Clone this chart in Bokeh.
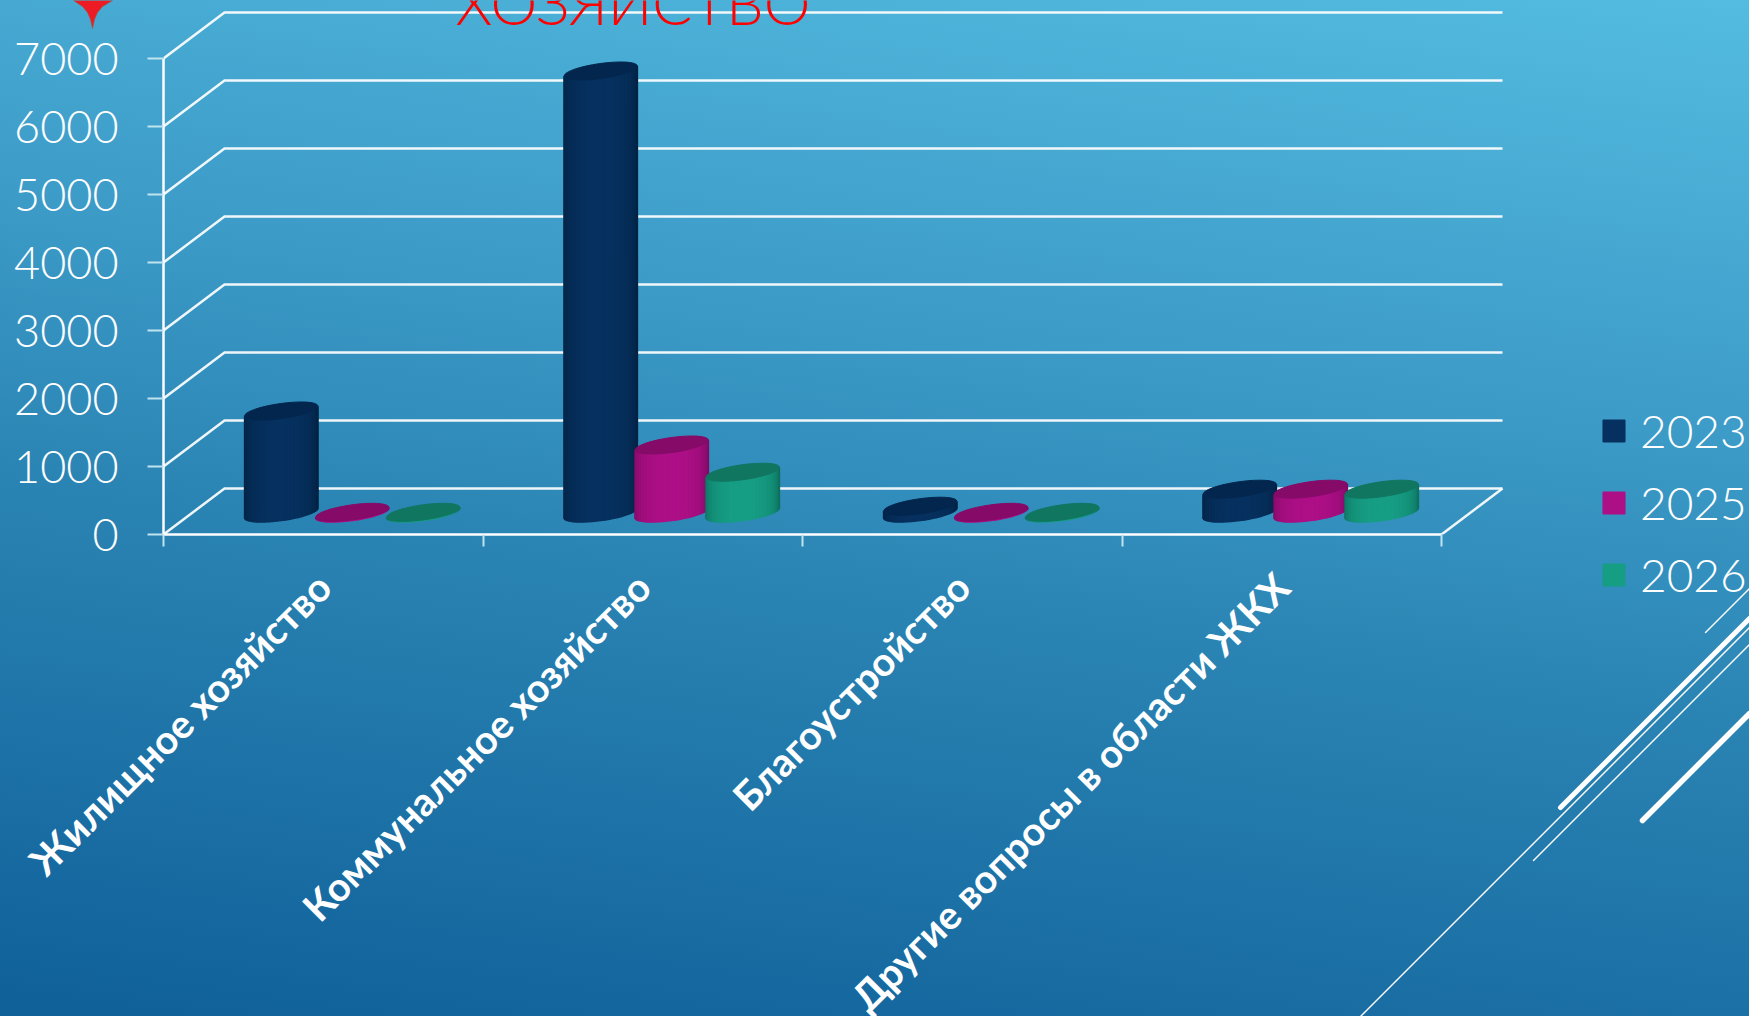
import math
from bokeh.plotting import figure
from bokeh.models import (Range1d, LinearAxis, FixedTicker, Legend, LegendItem, Label,
                          ColumnDataSource)
from bokeh.embed import file_html
from bokeh.resources import INLINE

categories = ["Жилищное хозяйство", "Коммунальное хозяйство", "Благоустройство", "Другие вопросы в области ЖКХ"]
years = ["2023", "2025", "2026"]
v2023 = [1500, 6500, 100, 350]
v2025 = [10, 1000, 10, 350]
v2026 = [10, 600, 10, 350]
y_ticks = [0, 1000, 2000, 3000, 4000, 5000, 6000, 7000]
series = [v2023, v2025, v2026]
body_center = ["#06305F", "#AD0F86", "#169E84"]
body_edge = ["#02213F", "#7A0A60", "#0D6B5A"]
lid_color = ["#03264E", "#860A68", "#107660"]

W, H = 1749, 1016
LEFT, BOTTOM_PX, RIGHT_PX = 163, 534, 1520
PX_X, PX_Y = 319.5, 0.068          # px per category, px per value unit
DEPTH_X, DEPTH_Y = 61 / PX_X, 46 / PX_Y
BASE_Y = 21.5 / PX_Y
BAR_SHIFT = DEPTH_X / 2 - 1.5 / PX_X
GROUP_STEP = 71 / PX_X
A, B, THETA = 37.0, 7.5, math.radians(8)
THIN_FONT = "Lato Light"

def X(px):
    return (px - LEFT) / PX_X

def Y(px):
    return (BOTTOM_PX - px) / PX_Y

p = figure(width=W, height=H, frame_width=RIGHT_PX - LEFT, frame_height=BOTTOM_PX,
           x_range=Range1d(0, X(RIGHT_PX)), y_range=Range1d(0, Y(0)),
           output_backend="svg", toolbar_location=None, x_axis_type=None, y_axis_type=None,
           min_border_left=LEFT, min_border_top=0, min_border_right=W - RIGHT_PX, min_border_bottom=H - BOTTOM_PX)
p.styles = {"position": "fixed", "left": "0", "top": "0",
            "background": "linear-gradient(188deg, #57C0E3 0%, #3A98C5 40%, #2A84B3 58%, #0E5E98 100%)"}
p.background_fill_alpha = 0
p.border_fill_alpha = 0
p.outline_line_color = None
p.grid.visible = False

# axes
yax = LinearAxis(ticker=FixedTicker(ticks=y_ticks), bounds=(0, 7000))
yax.axis_line_color = "white"; yax.axis_line_width = 2.5
yax.major_tick_line_color = "#BFE3F0"; yax.major_tick_line_width = 2
yax.major_tick_in = 0; yax.major_tick_out = 16; yax.minor_tick_line_color = None
yax.major_label_text_color = "white"; yax.major_label_text_font = THIN_FONT
yax.major_label_text_font_size = "45px"; yax.major_label_standoff = 29
p.add_layout(yax, "left")

xax = LinearAxis(ticker=FixedTicker(ticks=[0, 1, 2, 3, 4]), bounds=(0, 4),
                 major_label_overrides={t: "" for t in [0, 1, 2, 3, 4]})
xax.axis_line_color = "white"; xax.axis_line_width = 2.5
xax.major_tick_line_color = "#BFE3F0"; xax.major_tick_line_width = 2
xax.major_tick_in = 0; xax.major_tick_out = 12; xax.minor_tick_line_color = None
xax.major_label_standoff = 0; xax.major_label_text_font_size = "1px"
p.add_layout(xax, "below")

lab_ticks = [i + 0.5 for i in range(len(categories))]
lax = LinearAxis(ticker=FixedTicker(ticks=lab_ticks),
                 major_label_overrides=dict(zip(lab_ticks, categories)))
lax.axis_line_color = None; lax.major_tick_line_color = None; lax.minor_tick_line_color = None
lax.major_tick_in = 0; lax.major_tick_out = 0
lax.major_label_orientation = math.pi / 4
lax.major_label_text_color = "white"; lax.major_label_text_font = "Lato"
lax.major_label_text_font_style = "bold"; lax.major_label_text_font_size = "39.5px"
lax.major_label_standoff = 33
p.add_layout(lax, "below")

# back wall, side wall and floor
wall_xs, wall_ys = [], []
for t in y_ticks:
    wall_xs.append([0, DEPTH_X, 4 + DEPTH_X]); wall_ys.append([t, t + DEPTH_Y, t + DEPTH_Y])
wall_xs.append([4, 4 + DEPTH_X]); wall_ys.append([0, DEPTH_Y])
p.multi_line(wall_xs, wall_ys, line_color="white", line_width=2.5, line_alpha=0.92, level="underlay")

# cylinders
def mix(c1, c2, f):
    a = [int(c1[i:i + 2], 16) for i in (1, 3, 5)]
    b = [int(c2[i:i + 2], 16) for i in (1, 3, 5)]
    return "#%02x%02x%02x" % tuple(round(a[i] + (b[i] - a[i]) * f) for i in range(3))

t_left = math.pi + math.atan(-(B / A) * math.tan(THETA))
NS = 26
arc = []
for j in range(NS + 1):
    t = t_left + math.pi * j / NS
    arc.append((A * math.cos(t) * math.cos(THETA) - B * math.sin(t) * math.sin(THETA),
                A * math.cos(t) * math.sin(THETA) + B * math.sin(t) * math.cos(THETA)))
strip_renderers = []
for k, vals in enumerate(series):
    xs, ys, cs = [], [], []
    for i, v in enumerate(vals):
        cx = i + 0.5 + BAR_SHIFT + (k - 1) * GROUP_STEP
        for j in range(NS):
            (x0, y0), (x1, y1) = arc[j], arc[j + 1]
            xs.append([cx + x0 / PX_X, cx + x1 / PX_X, cx + x1 / PX_X, cx + x0 / PX_X])
            ys.append([BASE_Y + y0 / PX_Y, BASE_Y + y1 / PX_Y, BASE_Y + y1 / PX_Y + v, BASE_Y + y0 / PX_Y + v])
            u = abs(2 * (j + 0.5) / NS - 1)
            cs.append(mix(body_center[k], body_edge[k], u ** 2.2))
    src = ColumnDataSource(dict(xs=xs, ys=ys, c=cs))
    r = p.patches("xs", "ys", source=src, fill_color="c", line_color="c", line_width=1.5)
    strip_renderers.append(r)
    p.ellipse([i + 0.5 + BAR_SHIFT + (k - 1) * GROUP_STEP for i in range(len(vals))],
              [BASE_Y + v for v in vals], width=2 * A, height=2 * B, width_units="screen", height_units="screen",
              angle=THETA, fill_color=lid_color[k], line_color=lid_color[k], line_width=1)

# legend
legend = Legend(items=[LegendItem(label=years[k], renderers=[strip_renderers[k]], index=NS // 2) for k in range(3)],
                location=(80, -68), orientation="vertical", border_line_color=None,
                background_fill_alpha=0, label_text_color="white", label_text_font=THIN_FONT,
                label_text_font_size="46px", glyph_width=27, glyph_height=27, label_standoff=13,
                spacing=17, padding=0, margin=0)
p.add_layout(legend, "right")

# slide decoration
title = Label(x=X(455), y=Y(2), text="ХОЗЯЙСТВО", text_color="#FF0000", text_font=THIN_FONT,
              text_font_size="59px", text_baseline="alphabetic")
p.add_layout(title)

deco = figure(width=W, height=H, x_range=Range1d(0, W), y_range=Range1d(H, 0),
              output_backend="svg", toolbar_location=None, x_axis_type=None, y_axis_type=None,
              min_border=0, outline_line_color=None)
deco.styles = {"position": "fixed", "left": "0", "top": "0", "pointer-events": "none"}
deco.background_fill_alpha = 0
deco.border_fill_alpha = 0
deco.grid.visible = False
star_x = [73, 82, 87, 90, 92, 94, 97, 102, 112]
star_y = [0, 6, 12, 19, 28, 19, 12, 6, 0]
deco.patch(star_x, star_y, fill_color="#ED1C24", line_color="#A8503F", line_width=1, line_alpha=0.6)
lines_xs = [[1360, 1749], [1705, 1749], [1533, 1749], [1560, 1749], [1642, 1749]]
lines_ys = [[1016, 627], [632, 588], [860, 644], [807, 618], [820, 713]]
lines_w = [1.4, 1.4, 1.4, 5, 5.5]
for lx, ly, lw in zip(lines_xs, lines_ys, lines_w):
    deco.line(lx, ly, line_color="white", line_width=lw, line_cap="round")

open("out.html", "w").write(file_html([p, deco], INLINE))
